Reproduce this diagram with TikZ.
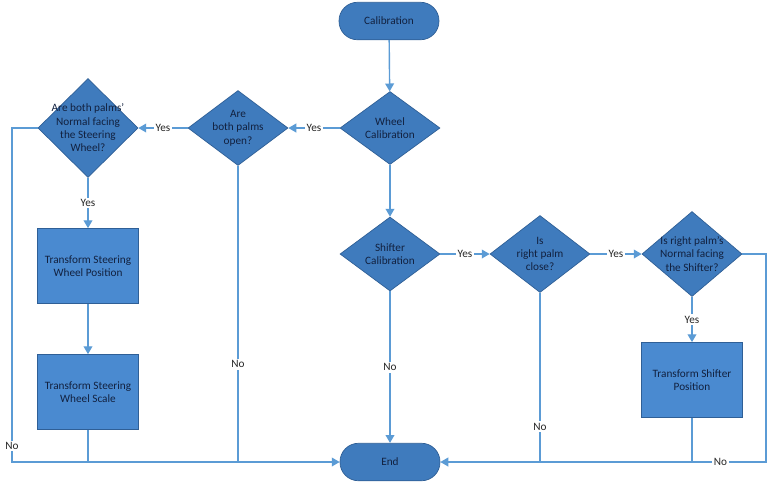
\documentclass[tikz,border=0pt]{standalone}
\usepackage{fontspec}
\setmainfont{Carlito}
\usetikzlibrary{arrows.meta,shapes.geometric}
\definecolor{flowblue}{HTML}{3F7BBD}
\definecolor{boxblue}{HTML}{4A8AD0}
\definecolor{edgeblue}{HTML}{2F5F96}
\definecolor{linkblue}{HTML}{5B9BD5}
\definecolor{inkblue}{HTML}{12213F}

\begin{document}
\begin{tikzpicture}[x=0.02cm, y=-0.02cm,
  every node/.style={font=\fontsize{6.4}{7.6}\selectfont, text=inkblue},
  term/.style={draw=edgeblue, fill=flowblue, rounded corners=0.37cm, minimum width=2cm, minimum height=0.75cm},
  decision/.style={diamond, draw=edgeblue, fill=flowblue, minimum width=2cm, minimum height=1.5cm, inner sep=0pt},
  process/.style={draw=edgeblue, fill=boxblue, minimum width=2.02cm, minimum height=1.5cm, align=center},
  dtxt/.style={align=center, text=inkblue},
  lbl/.style={fill=white, inner sep=1pt, text=black!85},
  line/.style={draw=linkblue, line width=0.8pt},
  arrow/.style={line, -{Triangle[length=4.5pt, width=5pt]}}
]
\useasboundingbox (0,0) rectangle (768,488);

% start / end
\node[term] (calib) at (389,21) {Calibration};
\node[term] (end) at (390,462) {End};

% wheel branch
\node[decision, minimum height=1.46cm, label={[dtxt]center:Wheel\\Calibration}] (wheel) at (390,128) {};
\node[decision, label={[dtxt]center:Are\\both palms\\open?}] (open) at (238,128) {};
\node[decision, minimum height=1.98cm, label={[dtxt]center:Are both palms'\\Normal facing\\the Steering\\Wheel?}] (normal) at (88,128) {};
\node[process] (wpos) at (88,266) {Transform Steering\\Wheel Position};
\node[process] (wscale) at (88,392) {Transform Steering\\Wheel Scale};

% shifter branch
\node[decision, minimum height=1.48cm, label={[dtxt]center:Shifter\\Calibration}] (shift) at (390,254) {};
\node[decision, minimum height=1.54cm, label={[dtxt]center:Is\\right palm\\close?}] (close) at (540,254) {};
\node[decision, minimum height=1.7cm, label={[dtxt]center:Is right palm's\\Normal facing\\the Shifter?}] (snormal) at (692,254) {};
\node[process] (spos) at (692,380) {Transform Shifter\\Position};

\coordinate (cl) at (12,462);
\coordinate (cr) at (766,462);

\draw[arrow] (calib) -- (wheel);
\draw[arrow] (wheel) -- node[lbl]{Yes} (open);
\draw[arrow] (open) -- node[lbl]{Yes} (normal);
\draw[arrow] (normal) -- node[lbl]{Yes} (wpos);
\draw[arrow] (wpos) -- (wscale);
\draw[arrow] (wheel) -- (shift);
\draw[arrow] (shift) -- node[lbl]{Yes} (close);
\draw[arrow] (close) -- node[lbl]{Yes} (snormal);
\draw[arrow] (snormal) -- node[lbl]{Yes} (spos);

% the "No" ways down to End
\draw[arrow] (normal) -| node[lbl, pos=0.976]{No} (cl) -- (end);
\draw[line] (wscale) -- (wscale |- end);
\draw[line] (open) -- node[lbl, pos=0.67]{No} (open |- end);
\draw[arrow] (shift) -- node[lbl]{No} (end);
\draw[line] (close) -- node[lbl, pos=0.79]{No} (close |- end);
\draw[arrow] (snormal) -| (cr) -- node[lbl, pos=0.14]{No} (end);
\draw[line] (spos) -- (spos |- end);
\end{tikzpicture}
\end{document}
